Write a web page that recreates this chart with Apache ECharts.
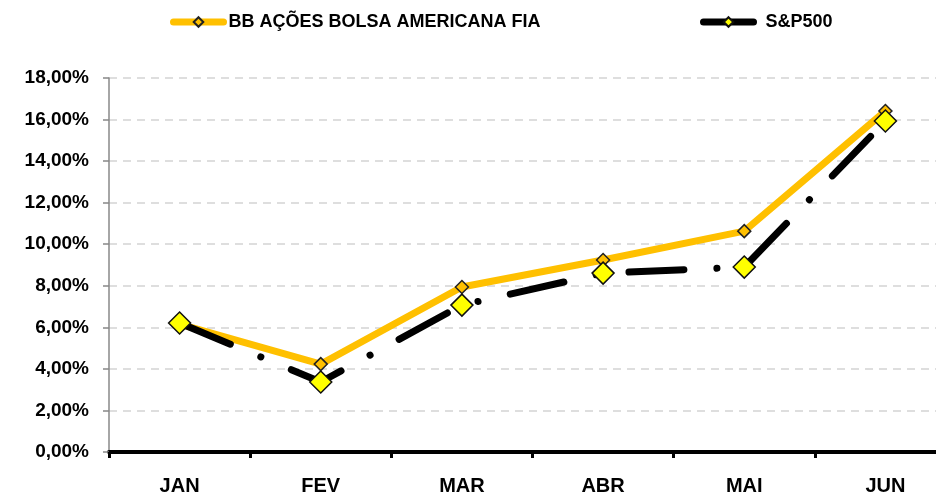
<!DOCTYPE html>
<html>
<head>
<meta charset="utf-8">
<script src="https://cdn.jsdelivr.net/npm/echarts@6/dist/echarts.min.js"></script>
<style>html,body{margin:0;padding:0;background:#fff}#c{width:936px;height:495px}</style>
</head>
<body>
<div id="c"></div>
<script>
var categories = ['JAN', 'FEV', 'MAR', 'ABR', 'MAI', 'JUN'];
var bbValues = [6.15, 4.23, 7.94, 9.24, 10.63, 16.41];
var spValues = [6.21, 3.37, 7.07, 8.61, 8.90, 15.93];
var seriesNames = ['BB AÇÕES BOLSA AMERICANA FIA', 'S&P500'];
var yTicks = { min: 0, max: 18, interval: 2 };

var FONT = 'Liberation Sans';
var chart = echarts.init(document.getElementById('c'), null, { renderer: 'canvas' });
chart.setOption({
  animation: false,
  backgroundColor: '#ffffff',
  grid: { left: 109, top: 78, height: 374, width: 847, containLabel: false, outerBoundsMode: 'none' },
  legend: [
    {
      data: [seriesNames[0]], left: 165, top: 8, itemWidth: 50, itemHeight: 12,
      lineStyle: { width: 7, cap: 'round', type: 'solid' },
      textStyle: { fontFamily: FONT, fontWeight: 'bold', fontSize: 18, color: '#000' }
    },
    {
      data: [seriesNames[1]], left: 695, top: 8, itemWidth: 50, itemHeight: 12,
      lineStyle: { width: 7, cap: 'round', type: 'solid' },
      textStyle: { fontFamily: FONT, fontWeight: 'bold', fontSize: 18, color: '#000', padding: [0, 0, 0, 7] }
    }
  ],
  xAxis: {
    type: 'category', data: categories, boundaryGap: true,
    axisLine: { lineStyle: { color: '#000', width: 4 } },
    axisTick: { show: true, length: 6, lineStyle: { color: '#000', width: 3 } },
    axisLabel: { margin: 24, fontFamily: FONT, fontWeight: 'bold', fontSize: 20, color: '#000' },
    splitLine: { show: false }
  },
  yAxis: {
    type: 'value', min: yTicks.min, max: yTicks.max, interval: yTicks.interval,
    axisLine: { show: true, lineStyle: { color: '#888', width: 1.5 } },
    axisTick: { show: true, length: 6, lineStyle: { color: '#888', width: 1.5 } },
    axisLabel: {
      margin: 20, fontFamily: FONT, fontWeight: 'bold', fontSize: 19, color: '#000',
      formatter: function (v) { return v.toFixed(2).replace('.', ',') + '%'; }
    },
    splitLine: { show: true, lineStyle: { color: '#d4d4d4', width: 1.5, type: [8, 6] } }
  },
  series: [
    {
      name: seriesNames[0], type: 'line', data: bbValues,
      symbol: 'diamond', symbolSize: 13,
      itemStyle: { color: '#FFC000', borderColor: '#222', borderWidth: 1.5 },
      lineStyle: { color: '#FFC000', width: 7 },
      z: 2
    },
    {
      name: seriesNames[1], type: 'line', data: spValues,
      symbol: 'diamond', symbolSize: 22,
      itemStyle: { color: '#FFFF00', borderColor: '#111', borderWidth: 1.5 },
      lineStyle: { color: '#000', width: 7, type: [55, 33, 0.1, 33], cap: 'round' },
      z: 3
    }
  ]
});
</script>
</body>
</html>
